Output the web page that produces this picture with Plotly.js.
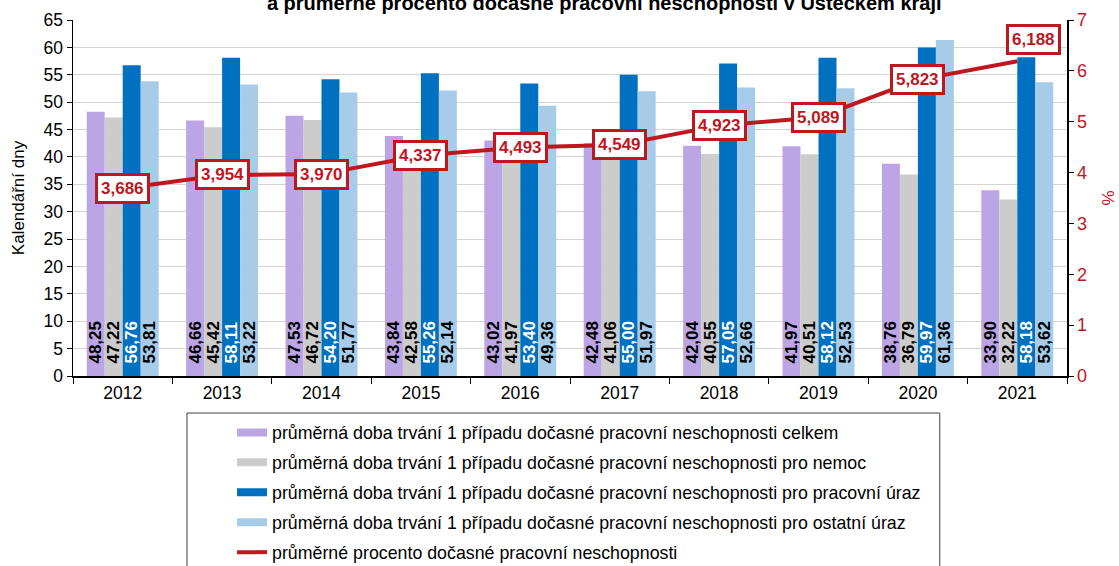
<!DOCTYPE html>
<html>
<head>
<meta charset="utf-8">
<script src="https://cdn.plot.ly/plotly-3.0.1.min.js"></script>
<style>html,body{margin:0;padding:0;background:#fff}#chart{width:1119px;height:566px}</style>
</head>
<body>
<div id="chart"></div>
<script>
const years = ['2012','2013','2014','2015','2016','2017','2018','2019','2020','2021'];
const celkem = [48.25,46.66,47.53,43.84,43.02,42.48,42.04,41.97,38.76,33.90];
const nemoc = [47.22,45.42,46.72,42.58,41.97,41.06,40.55,40.51,36.79,32.22];
const pracUraz = [56.76,58.11,54.20,55.26,53.40,55.00,57.05,58.12,59.97,58.18];
const ostUraz = [53.81,53.22,51.77,52.14,49.36,51.97,52.66,52.53,61.36,53.62];
const procento = [3.686,3.954,3.970,4.337,4.493,4.549,4.923,5.089,5.823,6.188];

const names = [
  'průměrná doba trvání 1 případu dočasné pracovní neschopnosti celkem',
  'průměrná doba trvání 1 případu dočasné pracovní neschopnosti pro nemoc',
  'průměrná doba trvání 1 případu dočasné pracovní neschopnosti pro pracovní úraz',
  'průměrná doba trvání 1 případu dočasné pracovní neschopnosti pro ostatní úraz',
  'průměrné procento dočasné pracovní neschopnosti'
];
const colors = ['#BBA5E4','#CCCCCC','#0070C0','#A6CCE9'];
const textColors = ['#000000','#000000','#FFFFFF','#000000'];
const red = '#C0161E';
const FONT = 'Liberation Sans, Arial, sans-serif';

const series = [celkem, nemoc, pracUraz, ostUraz];
const traces = [];
series.forEach((vals, i) => {
  traces.push({
    type: 'bar', x: years, y: vals, name: names[i], showlegend: false,
    marker: {color: colors[i]},
    texttemplate: '\u00a0\u00a0%{y:.2f}', textposition: 'inside', textangle: -90,
    insidetextanchor: 'start', constraintext: 'none', cliponaxis: false,
    textfont: {family: FONT, size: 17, color: textColors[i], weight: 'bold'},
    hoverinfo: 'skip'
  });
});
series.forEach((vals, i) => {
  traces.push({
    type: 'scatter', mode: 'lines', x: [years[0], years[0]], y: [null, null], name: names[i],
    legendgroup: 'g' + i, line: {color: colors[i], width: 8}, hoverinfo: 'skip'
  });
});
traces.push({
  type: 'scatter', mode: 'lines', x: years, y: procento, yaxis: 'y2', name: names[4],
  legendgroup: 'g4', line: {color: red, width: 4}, hoverinfo: 'skip'
});

const last = years.length - 1;
const annotations = procento.map((v, i) => ({
  x: i, y: v, xref: 'x', yref: 'y2',
  text: v.toFixed(3).replace('.', ','), showarrow: false,
  font: {family: FONT, size: 17, color: red, weight: 'bold'},
  bgcolor: '#FFFFFF', bordercolor: red, borderwidth: 3, borderpad: 3,
  xshift: i === last ? 16 : 0,
  yshift: i === last ? 22 : 0
}));

const layout = {
  width: 1119, height: 566,
  margin: {l: 73, r: 52, t: 20, b: 190},
  paper_bgcolor: '#FFFFFF', plot_bgcolor: '#FFFFFF',
  font: {family: FONT, size: 15, color: '#000'},
  separators: ',.',
  title: {
    text: 'a průměrné procento dočasné pracovní neschopnosti v Ústeckém kraji',
    font: {family: FONT, size: 20, color: '#000', weight: 'bold'},
    x: 0.54, xref: 'container', xanchor: 'center',
    y: 1.033, yref: 'paper', yanchor: 'bottom'
  },
  barmode: 'group', bargap: 0.276, bargroupgap: 0,
  xaxis: {
    type: 'category', categoryarray: years, categoryorder: 'array', range: [-0.5, 9.5],
    showline: true, linecolor: '#000', linewidth: 1.5, tickangle: 0,
    ticks: 'outside', tickson: 'boundaries', ticklen: 6, tickcolor: '#000',
    tickfont: {family: FONT, size: 17.5}, showgrid: false, automargin: false
  },
  yaxis: {
    range: [0, 65], dtick: 5, showline: true, linecolor: '#000', linewidth: 1.5,
    ticks: 'outside', ticklen: 5, tickcolor: '#000',
    gridcolor: '#D4D4D4', gridwidth: 1, zeroline: false,
    tickfont: {family: FONT, size: 17.5},
    title: {text: 'Kalendářní dny', font: {family: FONT, size: 17}, standoff: 14}
  },
  yaxis2: {
    range: [0, 7], dtick: 1, overlaying: 'y', side: 'right',
    showline: true, linecolor: '#000', linewidth: 1.5,
    ticks: 'outside', ticklen: 5, tickcolor: '#000', showgrid: false, zeroline: false,
    tickfont: {family: FONT, size: 18, color: red},
    title: {text: '%', font: {family: FONT, size: 17, color: red}, standoff: 16}
  },
  legend: {
    x: 0.16, xanchor: 'left',
    y: 0.268, yref: 'container', yanchor: 'top',
    traceorder: 'grouped', tracegroupgap: 3.8,
    font: {family: FONT, size: 17.8, color: '#000'},
    bgcolor: 'rgba(0,0,0,0)', borderwidth: 0
  },
  shapes: [{
    type: 'rect', xref: 'paper', yref: 'paper',
    x0: 0.1147, x1: 0.872, y0: -0.104, y1: -0.7,
    line: {color: '#404040', width: 1}, fillcolor: 'rgba(0,0,0,0)', layer: 'below'
  }],
  annotations: annotations
};

Plotly.newPlot('chart', traces, layout, {displayModeBar: false, staticPlot: true});
</script>
</body>
</html>
